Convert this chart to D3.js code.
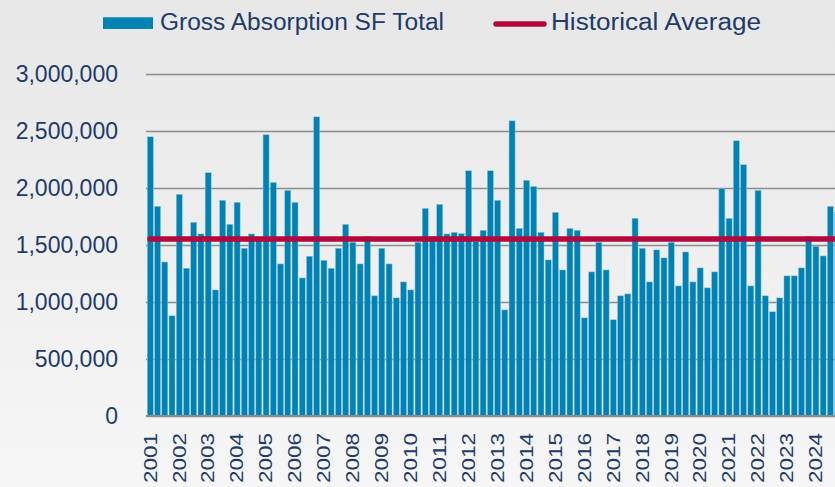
<!DOCTYPE html>
<html lang="en">
<head>
    <meta charset="UTF-8">
    <title>Gross Absorption</title>
    <style>
        body { margin: 0; background: #f2f2f2; }
        svg { display: block; font-family: "Liberation Sans", Arial, sans-serif; }
    </style>
</head>
<body>
    <svg width="835" height="487"></svg>
    <script src="https://d3js.org/d3.v7.min.js"></script>
    <script>
        // tick labels / categories
        var years = [2001, 2002, 2003, 2004, 2005, 2006, 2007, 2008, 2009, 2010, 2011, 2012,
                     2013, 2014, 2015, 2016, 2017, 2018, 2019, 2020, 2021, 2022, 2023, 2024];
        var quarters = ["Q1", "Q2", "Q3", "Q4"];
        var yTicks = [0, 500000, 1000000, 1500000, 2000000, 2500000, 3000000];

        // gross absorption, square feet, one value per quarter (2001 Q1 ...)
        var absorption = [
            2449000, 1839000, 1351000, 879000,
            1944000, 1296000, 1699000, 1597000,
            2134000, 1106000, 1892000, 1681000,
            1874000, 1471000, 1597000, 1570000,
            2467000, 2049000, 1334000, 1979000,
            1874000, 1211000, 1401000, 2624000,
            1366000, 1296000, 1471000, 1681000,
            1524000, 1334000, 1576000, 1054000,
            1471000, 1334000, 1036000, 1176000,
            1106000, 1524000, 1821000, 1576000,
            1856000, 1597000, 1611000, 1600000,
            2151000, 1530000, 1629000, 2151000,
            1892000, 931000, 2589000, 1646000,
            2067000, 2014000, 1611000, 1369000,
            1786000, 1281000, 1646000, 1629000,
            861000, 1264000, 1524000, 1281000,
            844000, 1054000, 1071000, 1734000,
            1471000, 1176000, 1457000, 1387000,
            1524000, 1141000, 1439000, 1176000,
            1299000, 1124000, 1264000, 1997000,
            1734000, 2414000, 2204000, 1141000,
            1979000, 1054000, 914000, 1036000,
            1229000, 1229000, 1299000, 1576000,
            1489000, 1404000, 1839000, 1786000
        ];
        var historicalAverage = 1553000;

        var svg = d3.select("svg"),
            width = +svg.attr("width"),
            height = +svg.attr("height");

        var navy = "#203a6b",
            barColor = "#0083b4",
            lineColor = "#b2083b";

        var defs = svg.append("defs");
        var grad = defs.append("linearGradient")
            .attr("id", "bg")
            .attr("x1", 0).attr("y1", 0).attr("x2", 0).attr("y2", 1);
        grad.append("stop").attr("offset", "0%").attr("stop-color", "#e7e7e7");
        grad.append("stop").attr("offset", "100%").attr("stop-color", "#f6f6f6");

        svg.append("rect")
            .attr("width", width)
            .attr("height", height)
            .attr("fill", "url(#bg)");

        var data = absorption.map(function(v, i) {
            return {
                key: years[Math.floor(i / 4)] + " " + quarters[i % 4],
                year: years[Math.floor(i / 4)],
                q: i % 4,
                value: v
            };
        });

        var left = 146, step = 7.235, pad = 0.17;
        var x = d3.scaleBand()
            .domain(data.map(function(d) { return d.key; }))
            .range([left + 1.3, left + 1.3 + step * (data.length - pad)])
            .paddingInner(pad)
            .paddingOuter(0);

        var y = d3.scaleLinear()
            .domain([0, 3000000])
            .range([416, 74]);

        // grid + y labels
        var yAxis = svg.append("g")
            .attr("class", "axis axis--y")
            .attr("transform", "translate(" + left + ",0)")
            .call(d3.axisLeft(y)
                .tickValues(yTicks)
                .tickSize(-(width - left))
                .tickPadding(28)
                .tickFormat(d3.format(",")));
        yAxis.select(".domain").remove();
        yAxis.selectAll("line")
            .attr("stroke", "#8c8c8c")
            .attr("stroke-width", 1.4);
        yAxis.selectAll("text")
            .attr("fill", navy)
            .style("font-size", "23px");

        svg.append("g")
            .selectAll(".bar")
            .data(data)
            .enter().append("rect")
            .attr("class", "bar")
            .attr("x", function(d) { return x(d.key); })
            .attr("y", function(d) { return y(d.value); })
            .attr("width", x.bandwidth())
            .attr("height", function(d) { return y(0) - y(d.value); })
            .attr("fill", barColor)
            .attr("stroke", "#8cc6de")
            .attr("stroke-width", 0.5);

        // baseline
        svg.append("line")
            .attr("x1", left).attr("x2", width)
            .attr("y1", y(0)).attr("y2", y(0))
            .attr("stroke", "#8a8a8a")
            .attr("stroke-width", 2);

        svg.append("line")
            .attr("x1", left + 4).attr("x2", width + 5)
            .attr("y1", y(historicalAverage)).attr("y2", y(historicalAverage))
            .attr("stroke", lineColor)
            .attr("stroke-width", 5.5)
            .attr("stroke-linecap", "round");

        // year labels on Q1 bars
        var xAxis = svg.append("g")
            .attr("class", "axis axis--x")
            .attr("transform", "translate(0," + y(0) + ")")
            .call(d3.axisBottom(x)
                .tickValues(data.filter(function(d) { return d.q === 0; }).map(function(d) { return d.key; }))
                .tickSize(0)
                .tickFormat(function(k) { return k.split(" ")[0]; }));
        xAxis.select(".domain").remove();
        xAxis.selectAll("text")
            .attr("transform", "rotate(-90)")
            .attr("x", -17)
            .attr("y", 0)
            .attr("dy", "0.35em")
            .attr("fill", navy)
            .attr("textLength", 50)
            .attr("lengthAdjust", "spacingAndGlyphs")
            .style("text-anchor", "end")
            .style("font-size", "18px");

        // legend
        var legend = svg.append("g").attr("class", "legend");
        legend.append("rect")
            .attr("x", 103).attr("y", 17.3)
            .attr("width", 50).attr("height", 11.7)
            .attr("fill", barColor);
        legend.append("text")
            .attr("x", 160).attr("y", 30)
            .attr("fill", navy)
            .attr("textLength", 284)
            .attr("lengthAdjust", "spacingAndGlyphs")
            .style("font-size", "23px")
            .text("Gross Absorption SF Total");
        legend.append("line")
            .attr("x1", 496).attr("x2", 544)
            .attr("y1", 24).attr("y2", 24)
            .attr("stroke", lineColor)
            .attr("stroke-width", 5.5)
            .attr("stroke-linecap", "round");
        legend.append("text")
            .attr("x", 551).attr("y", 30)
            .attr("fill", navy)
            .attr("textLength", 210)
            .attr("lengthAdjust", "spacingAndGlyphs")
            .style("font-size", "23px")
            .text("Historical Average");
    </script>
</body>
</html>
